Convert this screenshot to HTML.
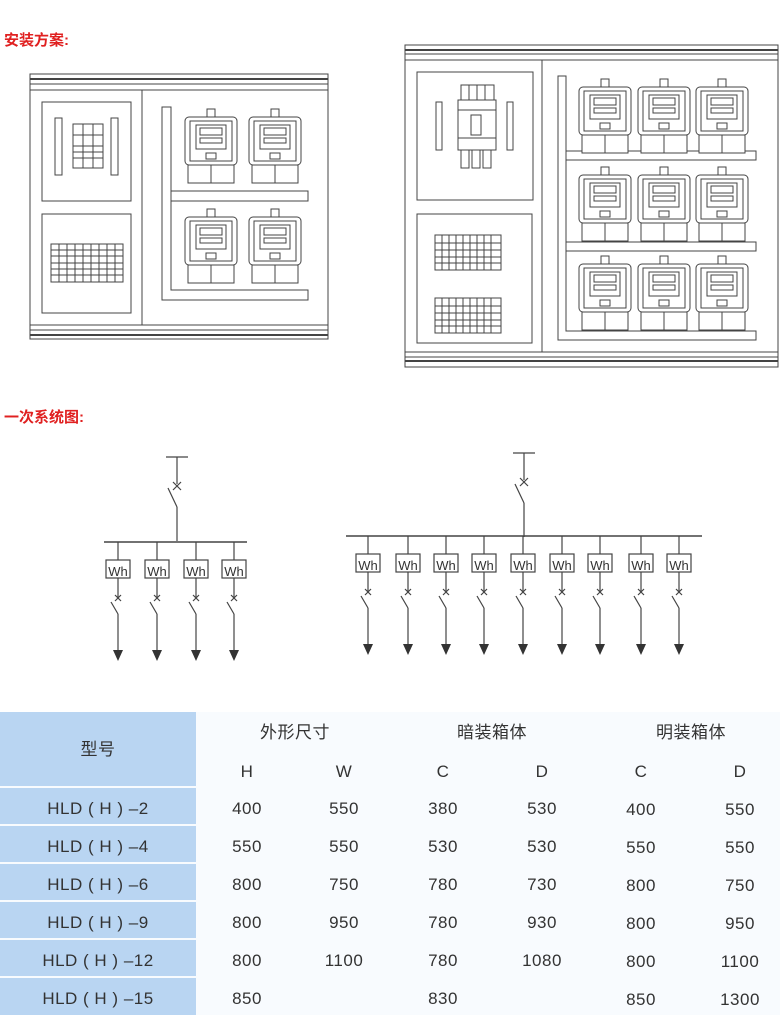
<!DOCTYPE html>
<html><head><meta charset="utf-8"><style>
html,body{margin:0;padding:0;background:#fff;}
svg{display:block;}
text{font-family:"Liberation Sans","Noto Sans CJK SC",sans-serif;}
</style></head><body>
<svg width="780" height="1015" viewBox="0 0 780 1015" xmlns="http://www.w3.org/2000/svg">
<defs>
<g id="meter" fill="#fff" stroke="#444" stroke-width="1">
 <rect x="22" y="-8" width="8" height="8"/>
 <rect x="0" y="0" width="52" height="48" rx="4"/>
 <rect x="5" y="4" width="42" height="40"/>
 <rect x="11" y="8" width="30" height="24"/>
 <rect x="15" y="11" width="22" height="7"/>
 <rect x="15" y="21" width="22" height="5"/>
 <rect x="21" y="36" width="10" height="6"/>
 <rect x="3" y="48" width="46" height="18"/>
 <line x1="26" y1="48" x2="26" y2="66"/>
</g>
<g id="br" fill="none" stroke="#444" stroke-width="1.2">
 <line x1="0" y1="0" x2="0" y2="18"/>
 <rect x="-12" y="18" width="24" height="18" fill="#fff"/>
 <line x1="0" y1="36" x2="0" y2="56"/>
 <line x1="-3" y1="53" x2="3" y2="59"/><line x1="3" y1="53" x2="-3" y2="59"/>
 <line x1="-7" y1="60" x2="0" y2="72"/>
 <line x1="0" y1="72" x2="0" y2="108"/>
 <polygon points="-5,108 5,108 0,119" fill="#333" stroke="none"/>
</g>
<g id="main" fill="none" stroke="#444" stroke-width="1.2">
 <line x1="-11" y1="0" x2="11" y2="0"/>
 <line x1="0" y1="0" x2="0" y2="27"/>
 <line x1="-4" y1="25" x2="4" y2="33"/><line x1="4" y1="25" x2="-4" y2="33"/>
 <line x1="-9" y1="31" x2="0" y2="50"/>
 <line x1="0" y1="50" x2="0" y2="84"/>
</g>
</defs>

<text x="4" y="45" font-size="15" font-weight="bold" fill="#e02020">安装方案:</text>
<text x="4" y="422" font-size="15" font-weight="bold" fill="#e02020">一次系统图:</text>

<g fill="none" stroke="#444" stroke-width="1">
 <rect x="30" y="74" width="298" height="265"/>
 <line x1="30" y1="79" x2="328" y2="79" stroke-width="2"/>
 <line x1="30" y1="84" x2="328" y2="84"/>
 <line x1="30" y1="90" x2="328" y2="90"/>
 <line x1="30" y1="325" x2="328" y2="325"/>
 <line x1="30" y1="330" x2="328" y2="330"/>
 <line x1="30" y1="335" x2="328" y2="335" stroke-width="2"/>
 <line x1="142" y1="90" x2="142" y2="325"/>
 <rect x="42" y="102" width="89" height="99"/>
 <rect x="42" y="214" width="89" height="99"/>
 <rect x="55" y="118" width="7" height="57"/>
 <rect x="111" y="118" width="7" height="57"/>
 <rect x="73" y="124" width="30" height="44"/>
 <line x1="83" y1="124" x2="83" y2="168"/><line x1="93" y1="124" x2="93" y2="168"/>
 <line x1="73" y1="135" x2="103" y2="135"/><line x1="73" y1="146" x2="103" y2="146"/><line x1="73" y1="152" x2="103" y2="152"/><line x1="73" y1="158" x2="103" y2="158"/>
 <rect x="51" y="244" width="72" height="38"/>
 <line x1="59" y1="244" x2="59" y2="282"/><line x1="67" y1="244" x2="67" y2="282"/><line x1="75" y1="244" x2="75" y2="282"/><line x1="83" y1="244" x2="83" y2="282"/><line x1="91" y1="244" x2="91" y2="282"/><line x1="99" y1="244" x2="99" y2="282"/><line x1="107" y1="244" x2="107" y2="282"/><line x1="115" y1="244" x2="115" y2="282"/>
 <line x1="51" y1="250" x2="123" y2="250"/><line x1="51" y1="256" x2="123" y2="256"/><line x1="51" y1="263" x2="123" y2="263"/><line x1="51" y1="269" x2="123" y2="269"/><line x1="51" y1="275" x2="123" y2="275"/>
 <path d="M162 107 H171 V290 H308 V300 H162 Z"/>
 <rect x="171" y="191" width="137" height="10"/>
</g>
<use href="#meter" x="185" y="117"/><use href="#meter" x="249" y="117"/>
<use href="#meter" x="185" y="217"/><use href="#meter" x="249" y="217"/>

<g fill="none" stroke="#444" stroke-width="1">
 <rect x="405" y="45" width="373" height="322"/>
 <line x1="405" y1="50" x2="778" y2="50" stroke-width="2"/>
 <line x1="405" y1="54" x2="778" y2="54"/>
 <line x1="405" y1="60" x2="778" y2="60"/>
 <line x1="405" y1="352" x2="778" y2="352"/>
 <line x1="405" y1="357" x2="778" y2="357"/>
 <line x1="405" y1="361" x2="778" y2="361" stroke-width="2"/>
 <line x1="542" y1="60" x2="542" y2="352"/>
 <rect x="417" y="72" width="116" height="128"/>
 <rect x="417" y="214" width="115" height="129"/>
 <rect x="436" y="102" width="6" height="48"/>
 <rect x="507" y="102" width="6" height="48"/>
 <rect x="461" y="85" width="33" height="15"/>
 <line x1="469" y1="85" x2="469" y2="100"/><line x1="477" y1="85" x2="477" y2="100"/><line x1="485" y1="85" x2="485" y2="100"/>
 <rect x="458" y="100" width="38" height="50"/>
 <line x1="458" y1="110" x2="496" y2="110"/><line x1="458" y1="138" x2="496" y2="138"/>
 <rect x="471" y="115" width="10" height="20"/>
 <rect x="461" y="150" width="8" height="18"/><rect x="472" y="150" width="8" height="18"/><rect x="483" y="150" width="8" height="18"/>
 <rect x="435" y="235" width="66" height="35"/>
 <rect x="435" y="298" width="66" height="35"/>
 <path d="M442 235V270M449 235V270M456 235V270M463 235V270M470 235V270M477 235V270M484 235V270M491 235V270M435 243H501M435 250H501M435 257H501M435 263H501"/>
 <path d="M442 298V333M449 298V333M456 298V333M463 298V333M470 298V333M477 298V333M484 298V333M491 298V333M435 306H501M435 313H501M435 320H501M435 326H501"/>
 <path d="M558 76 H566 V331 H756 V340 H558 Z"/>
 <rect x="566" y="151" width="190" height="9"/>
 <rect x="566" y="242" width="190" height="9"/>
</g>
<use href="#meter" x="579" y="87"/><use href="#meter" x="638" y="87"/><use href="#meter" x="696" y="87"/>
<use href="#meter" x="579" y="175"/><use href="#meter" x="638" y="175"/><use href="#meter" x="696" y="175"/>
<use href="#meter" x="579" y="264"/><use href="#meter" x="638" y="264"/><use href="#meter" x="696" y="264"/>

<use href="#main" x="177" y="457"/>
<line x1="104" y1="542" x2="247" y2="542" stroke="#444" stroke-width="1.4"/>
<use href="#br" x="118" y="542"/><use href="#br" x="157" y="542"/><use href="#br" x="196" y="542"/><use href="#br" x="234" y="542"/>
<g font-size="13" fill="#333" text-anchor="middle">
<text x="118" y="576">Wh</text><text x="157" y="576">Wh</text><text x="196" y="576">Wh</text><text x="234" y="576">Wh</text>
</g>

<use href="#main" x="524" y="453"/>
<line x1="346" y1="536" x2="702" y2="536" stroke="#444" stroke-width="1.4"/>
<use href="#br" x="368" y="536"/><use href="#br" x="408" y="536"/><use href="#br" x="446" y="536"/><use href="#br" x="484" y="536"/><use href="#br" x="523" y="536"/><use href="#br" x="562" y="536"/><use href="#br" x="600" y="536"/><use href="#br" x="641" y="536"/><use href="#br" x="679" y="536"/>
<g font-size="13" fill="#333" text-anchor="middle">
<text x="368" y="570">Wh</text><text x="408" y="570">Wh</text><text x="446" y="570">Wh</text><text x="484" y="570">Wh</text><text x="523" y="570">Wh</text><text x="562" y="570">Wh</text><text x="600" y="570">Wh</text><text x="641" y="570">Wh</text><text x="679" y="570">Wh</text>
</g>

<rect x="0" y="712" width="780" height="303" fill="#f8fbfe"/>
<g fill="#b9d5f2">
 <rect x="0" y="712" width="196" height="74"/>
 <rect x="0" y="788" width="196" height="36"/>
 <rect x="0" y="826" width="196" height="36"/>
 <rect x="0" y="864" width="196" height="36"/>
 <rect x="0" y="902" width="196" height="36"/>
 <rect x="0" y="940" width="196" height="36"/>
 <rect x="0" y="978" width="196" height="37"/>
</g>
<g font-size="17" fill="#333" text-anchor="middle" letter-spacing="0.5">
 <text x="98" y="755">型号</text>
 <text x="295" y="738">外形尺寸</text>
 <text x="492" y="738">暗装箱体</text>
 <text x="691" y="738">明装箱体</text>
 <text x="247" y="777">H</text><text x="344" y="777">W</text><text x="443" y="777">C</text><text x="542" y="777">D</text><text x="641" y="777">C</text><text x="740" y="777">D</text>
 <text x="98" y="814">HLD ( H ) –2</text>
 <text x="98" y="852">HLD ( H ) –4</text>
 <text x="98" y="890">HLD ( H ) –6</text>
 <text x="98" y="928">HLD ( H ) –9</text>
 <text x="98" y="966">HLD ( H ) –12</text>
 <text x="98" y="1004">HLD ( H ) –15</text>
 <text x="247" y="814">400</text><text x="344" y="814">550</text><text x="443" y="814">380</text><text x="542" y="814">530</text><text x="641" y="815">400</text><text x="740" y="815">550</text>
 <text x="247" y="852">550</text><text x="344" y="852">550</text><text x="443" y="852">530</text><text x="542" y="852">530</text><text x="641" y="853">550</text><text x="740" y="853">550</text>
 <text x="247" y="890">800</text><text x="344" y="890">750</text><text x="443" y="890">780</text><text x="542" y="890">730</text><text x="641" y="891">800</text><text x="740" y="891">750</text>
 <text x="247" y="928">800</text><text x="344" y="928">950</text><text x="443" y="928">780</text><text x="542" y="928">930</text><text x="641" y="929">800</text><text x="740" y="929">950</text>
 <text x="247" y="966">800</text><text x="344" y="966">1100</text><text x="443" y="966">780</text><text x="542" y="966">1080</text><text x="641" y="967">800</text><text x="740" y="967">1100</text>
 <text x="247" y="1004">850</text><text x="443" y="1004">830</text><text x="641" y="1005">850</text><text x="740" y="1005">1300</text>
</g>
</svg>
</body></html>
